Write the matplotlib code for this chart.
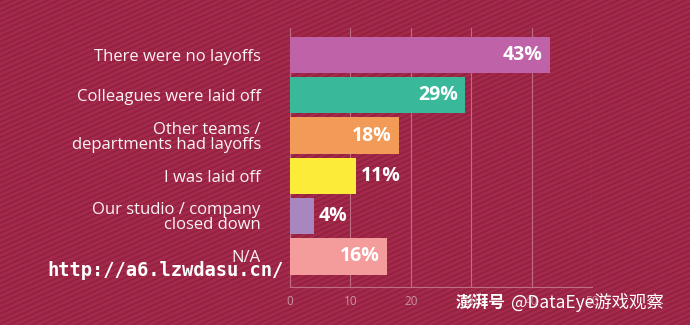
import numpy as np
import matplotlib
matplotlib.use("Agg")
import matplotlib.pyplot as plt
from matplotlib.collections import LineCollection

# survey answers, top to bottom
categories = [
    "There were no layoffs",
    "Colleagues were laid off",
    "Other teams /\ndepartments had layoffs",
    "I was laid off",
    "Our studio / company\nclosed down",
    "N/A",
]
percent = [43, 29, 18, 11, 4, 16]
bar_colors = ["#C062A8", "#39B99A", "#F29A58", "#FCEB38", "#A887BF", "#F49B9B"]
label_inside = [True, True, True, False, False, True]
xticks = [0, 10, 20, 30, 40, 50]

bg = "#A42A4C"
stripe = "#942140"
grid_col = "#C06C84"

plt.rcParams["font.family"] = ["Open Sans", "DejaVu Sans"]

fig = plt.figure(figsize=(6.9, 3.25), dpi=100)
fig.patch.set_facecolor(bg)

# diagonal stripe texture over the background
segs = []
slope = 0.45
for c in np.arange(-1.5, 1.2, 0.0155):
    segs.append([(0, c), (1, c + slope * 6.9 / 3.25)])
fig.add_artist(LineCollection(segs, colors=stripe, linewidths=1.4,
                              transform=fig.transFigure, zorder=0))

ax = fig.add_axes([290 / 690, 1 - 287 / 325, 302 / 690, 259 / 325])
ax.set_facecolor("none")

y = np.arange(len(categories))
ax.barh(y, percent, height=0.9, color=bar_colors, zorder=3)

for yi, v, inside in zip(y, percent, label_inside):
    if inside:
        ax.text(v - 1.2, yi, f"{v}%", ha="right", va="center", color="white",
                fontsize=14, fontweight="bold", zorder=4)
    else:
        ax.text(v + 0.8, yi, f"{v}%", ha="left", va="center", color="white",
                fontsize=14, fontweight="bold", zorder=4)

ax.set_xlim(0, 50)
ax.set_ylim(5.76, -0.67)
ax.set_xticks(xticks)
ax.set_xticklabels([str(t) for t in xticks])
ax.set_yticks(y)
ax.set_yticklabels(categories, fontsize=12, color="#FBF3F5", linespacing=0.92)
ax.tick_params(axis="y", length=0, pad=21)
ax.tick_params(axis="x", length=0, pad=6, labelsize=8.5, labelcolor="#C9939F")
ax.grid(axis="x", color=grid_col, linewidth=0.8, zorder=1)
for side in ["top", "right"]:
    ax.spines[side].set_visible(False)
for side in ["left", "bottom"]:
    ax.spines[side].set_color(grid_col)
    ax.spines[side].set_linewidth(0.8)
for lbl in ax.get_yticklabels():
    lbl.set_ha("right")
    lbl.set_multialignment("right")

# watermarks
fig.text(47 / 690, 1 - 270 / 325, "http://a6.lzwdasu.cn/", color="white",
         fontsize=13.5, fontweight="bold", family="DejaVu Sans Mono",
         va="center", ha="left")
fig.text(456 / 690, 1 - 303 / 325, "澎湃号", color="white", fontsize=12,
         fontweight="bold", style="italic",
         family=["Noto Sans CJK SC", "DejaVu Sans"], va="center", ha="left")
fig.text(511 / 690, 1 - 303 / 325, "@DataEye游戏观察", color="white", fontsize=12.5,
         family=["Noto Sans CJK SC", "DejaVu Sans"], va="center", ha="left")

fig.savefig("out.png", dpi=100, facecolor=bg)
